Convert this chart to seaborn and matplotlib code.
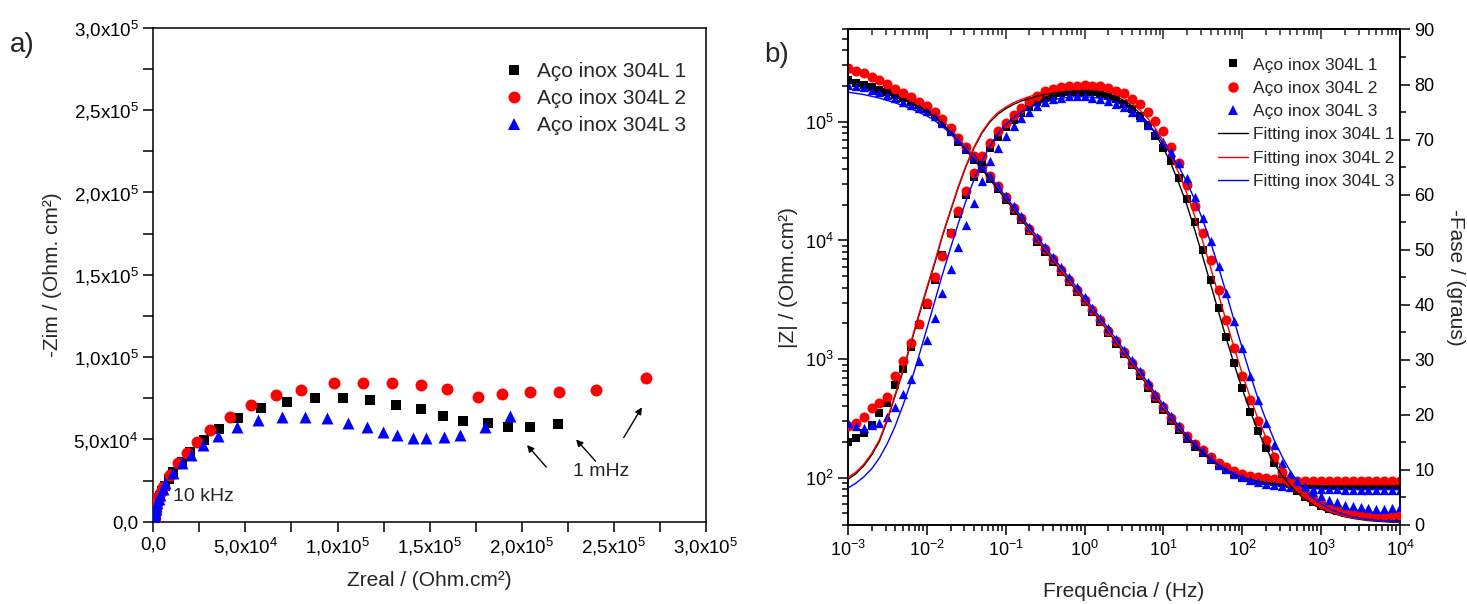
import numpy as np
import matplotlib
matplotlib.use("Agg")
import matplotlib.pyplot as plt
import seaborn as sns
from matplotlib.ticker import FixedLocator, LogLocator, MultipleLocator, NullFormatter
from matplotlib.lines import Line2D

# ---------------- data ----------------
labels_data = ["Aço inox 304L 1", "Aço inox 304L 2", "Aço inox 304L 3"]
labels_fit = ["Fitting inox 304L 1", "Fitting inox 304L 2", "Fitting inox 304L 3"]

# Nyquist (values in kOhm.cm2)
zr1 = [0.09, 0.09, 0.09, 0.09, 0.09, 0.10, 0.10, 0.11, 0.12, 0.13, 0.15, 0.17, 0.2, 0.25, 0.31, 0.39, 0.5, 0.63,
       0.8, 1.0, 1.3, 1.7, 2.2, 2.8, 3.6, 4.8, 6.4, 8.3, 10.5, 15.4, 19.9, 27.5, 35.8, 46.0, 58.7, 72.8, 88.0,
       102.9, 117.8, 131.5, 145.4, 157.1, 167.9, 181.5, 192.3, 204.4, 219.8]
zi1 = [0.0, 0.01, 0.02, 0.03, 0.05, 0.08, 0.12, 0.18, 0.26, 0.36, 0.5, 0.7, 0.95, 1.27, 1.7, 2.25, 2.95, 3.8,
       4.9, 6.2, 7.7, 9.4, 11.3, 13.4, 15.8, 18.6, 21.9, 25.8, 30.4, 36.4, 42.5, 49.6, 56.1, 62.8, 68.9, 72.9, 74.9,
       74.9, 73.9, 70.9, 68.4, 64.2, 61.3, 59.7, 57.7, 57.7, 59.3]
zr2 = [0.09, 0.09, 0.09, 0.09, 0.09, 0.10, 0.10, 0.11, 0.12, 0.13, 0.15, 0.17, 0.2, 0.24, 0.3, 0.37, 0.46, 0.58,
       0.72, 0.9, 1.1, 1.4, 1.8, 2.3, 2.8, 4.0, 5.4, 9.0, 13.5, 18.1, 23.5, 30.7, 41.5, 53.3, 66.8, 80.0, 98.1,
       113.8, 129.5, 145.4, 159.3, 176.1, 189.1, 204.4, 220.3, 240.5, 267.6]
zi2 = [0.0, 0.01, 0.02, 0.03, 0.05, 0.08, 0.12, 0.18, 0.26, 0.37, 0.52, 0.72, 0.98, 1.3, 1.75, 2.3, 3.0, 3.9,
       5.0, 6.3, 7.8, 9.5, 11.4, 13.3, 15.2, 18.0, 21.3, 28.4, 35.5, 41.5, 48.6, 55.7, 63.8, 70.9, 76.9, 79.9, 84.0,
       84.4, 84.0, 83.0, 80.6, 75.5, 77.4, 78.9, 78.9, 80.0, 87.1]
zr3 = [0.08, 0.08, 0.08, 0.08, 0.08, 0.09, 0.09, 0.10, 0.11, 0.12, 0.14, 0.16, 0.19, 0.23, 0.29, 0.37, 0.47, 0.6,
       0.77, 1.0, 1.3, 1.7, 2.2, 2.9, 3.8, 5.0, 6.3, 10.8, 15.4, 20.3, 27.1, 35.2, 45.2, 56.9, 70.1, 82.6, 94.5,
       105.6, 116.1, 124.6, 132.4, 140.8, 148.1, 158.0, 166.7, 180.2, 193.8]
zi3 = [0.0, 0.01, 0.02, 0.03, 0.05, 0.08, 0.12, 0.18, 0.26, 0.37, 0.52, 0.72, 0.98, 1.3, 1.75, 2.3, 3.0, 3.9,
       5.0, 6.3, 7.8, 9.6, 11.6, 13.9, 16.5, 19.6, 23.3, 29.4, 35.5, 40.5, 46.6, 52.0, 57.7, 61.7, 63.4, 63.8, 62.8,
       60.1, 57.7, 54.6, 52.6, 50.6, 50.6, 51.6, 52.6, 57.7, 64.2]

# Bode: frequencies (Hz)
freq = [1.00e-3, 1.26e-3, 1.58e-3, 2.00e-3, 2.51e-3, 3.16e-3, 3.98e-3, 5.01e-3, 6.31e-3, 7.94e-3,
        1.00e-2, 1.26e-2, 1.58e-2, 2.00e-2, 2.51e-2, 3.16e-2, 3.98e-2, 5.01e-2, 6.31e-2, 7.94e-2,
        1.00e-1, 1.26e-1, 1.58e-1, 2.00e-1, 2.51e-1, 3.16e-1, 3.98e-1, 5.01e-1, 6.31e-1, 7.94e-1,
        1.00, 1.26, 1.58, 2.00, 2.51, 3.16, 3.98, 5.01, 6.31, 7.94,
        10.0, 12.6, 15.8, 20.0, 25.1, 31.6, 39.8, 50.1, 63.1, 79.4,
        100, 126, 158, 200, 251, 316, 398, 501, 631, 794,
        1000, 1259, 1585, 1995, 2512, 3162, 3981, 5012, 6310, 7943, 10000]

# log10 |Z| (Ohm.cm2), measured
logz1 = [5.35, 5.33, 5.31, 5.29, 5.27, 5.25, 5.23, 5.20, 5.17, 5.14,
         5.11, 5.06, 4.99, 4.91, 4.83, 4.76, 4.68, 4.60, 4.52, 4.43,
         4.34, 4.25, 4.17, 4.08, 3.99, 3.905, 3.82, 3.735, 3.65, 3.565,
         3.48, 3.395, 3.31, 3.22, 3.13, 3.04, 2.95, 2.86, 2.76, 2.665,
         2.57, 2.48, 2.40, 2.325, 2.26, 2.205, 2.15, 2.10, 2.065, 2.035,
         2.01, 1.995, 1.98, 1.97, 1.962, 1.955, 1.95, 1.946, 1.943, 1.941,
         1.94, 1.94, 1.94, 1.94, 1.94, 1.94, 1.94, 1.94, 1.94, 1.94, 1.94]
logz2 = [5.45, 5.43, 5.41, 5.38, 5.35, 5.32, 5.28, 5.245, 5.205, 5.17,
         5.135, 5.085, 5.02, 4.945, 4.865, 4.79, 4.71, 4.63, 4.545, 4.455,
         4.365, 4.275, 4.19, 4.10, 4.01, 3.925, 3.84, 3.755, 3.67, 3.585,
         3.50, 3.415, 3.33, 3.24, 3.15, 3.06, 2.97, 2.88, 2.785, 2.69,
         2.595, 2.505, 2.425, 2.35, 2.285, 2.23, 2.175, 2.125, 2.088, 2.058,
         2.035, 2.018, 2.005, 1.995, 1.988, 1.983, 1.979, 1.976, 1.974, 1.972,
         1.971, 1.97, 1.97, 1.97, 1.97, 1.97, 1.97, 1.97, 1.97, 1.97, 1.97]
logz3 = [5.31, 5.30, 5.29, 5.27, 5.25, 5.23, 5.20, 5.17, 5.145, 5.115,
         5.09, 5.045, 4.99, 4.925, 4.855, 4.78, 4.705, 4.625, 4.545, 4.46,
         4.375, 4.29, 4.205, 4.115, 4.03, 3.945, 3.86, 3.775, 3.69, 3.605,
         3.52, 3.435, 3.35, 3.26, 3.17, 3.08, 2.99, 2.90, 2.805, 2.71,
         2.615, 2.52, 2.435, 2.355, 2.285, 2.225, 2.165, 2.11, 2.07, 2.035,
         2.005, 1.98, 1.962, 1.948, 1.937, 1.928, 1.921, 1.915, 1.911, 1.908,
         1.905, 1.903, 1.902, 1.901, 1.90, 1.90, 1.90, 1.90, 1.90, 1.90, 1.90]

# -phase (degrees), measured
ph1 = [15.1, 15.8, 16.7, 18.2, 20.3, 22.1, 25.5, 28.3, 32.4, 36.4,
       40.0, 44.5, 49.0, 53.0, 56.5, 60.0, 63.2, 66.0, 68.5, 70.5,
       72.2, 73.6, 74.8, 75.9, 76.8, 77.5, 78.0, 78.4, 78.6, 78.7,
       78.7, 78.6, 78.3, 77.9, 77.3, 76.5, 75.5, 74.2, 72.6, 70.7,
       68.5, 66.2, 63.0, 59.2, 55.0, 50.0, 44.5, 39.4, 34.2, 29.4,
       24.8, 20.6, 17.0, 13.9, 11.3, 9.3, 7.6, 6.2, 5.0, 4.1,
       3.4, 2.9, 2.5, 2.2, 2.0, 1.8, 1.7, 1.6, 1.5, 1.5, 1.5]
ph2 = [17.9, 18.5, 19.7, 21.2, 22.1, 23.2, 27.0, 29.7, 33.0, 36.5,
       40.4, 45.0, 48.9, 53.1, 57.0, 60.6, 63.9, 67.0, 69.4, 71.5,
       73.1, 74.5, 75.8, 77.0, 78.0, 78.8, 79.2, 79.6, 79.8, 79.8,
       80.0, 79.8, 79.7, 79.4, 78.8, 78.4, 77.3, 76.5, 75.1, 73.3,
       71.5, 68.7, 65.8, 61.8, 57.9, 53.1, 48.2, 42.6, 37.3, 32.1,
       27.0, 22.7, 18.8, 15.5, 12.4, 9.7, 7.9, 6.7, 5.5, 4.5,
       3.8, 3.3, 2.9, 2.6, 2.3, 2.1, 2.0, 1.9, 1.8, 1.8, 1.9]
ph3 = [18.5, 17.9, 17.6, 18.2, 18.6, 19.7, 21.5, 23.8, 26.5, 29.7,
       33.6, 37.6, 42.2, 46.5, 50.5, 54.5, 58.5, 62.5, 66.1, 68.5,
       70.6, 72.4, 73.9, 75.1, 76.1, 76.8, 77.3, 77.6, 77.9, 77.9,
       77.9, 77.6, 77.3, 77.0, 76.5, 75.9, 75.1, 74.1, 72.7, 71.3,
       69.6, 67.8, 65.8, 63.0, 59.6, 55.8, 51.5, 47.0, 42.1, 37.0,
       32.1, 27.0, 22.7, 18.5, 14.5, 11.3, 9.2, 8.0, 7.0, 6.0,
       5.2, 4.6, 4.1, 3.7, 3.4, 3.2, 3.0, 2.9, 2.9, 3.0, 3.2]

# fitted curves
logzf1 = [5.33, 5.315, 5.30, 5.285, 5.265, 5.245, 5.22, 5.19, 5.16, 5.125,
          5.09, 5.045, 4.985, 4.91, 4.835, 4.76, 4.68, 4.60, 4.515, 4.43,
          4.345, 4.26, 4.175, 4.09, 4.00, 3.915, 3.83, 3.745, 3.66, 3.575,
          3.49, 3.405, 3.32, 3.23, 3.14, 3.05, 2.96, 2.87, 2.775, 2.68,
          2.585, 2.495, 2.41, 2.335, 2.27, 2.21, 2.155, 2.105, 2.065, 2.03,
          2.005, 1.985, 1.97, 1.958, 1.95, 1.943, 1.938, 1.935, 1.933, 1.932,
          1.931, 1.93, 1.93, 1.93, 1.93, 1.93, 1.93, 1.93, 1.93, 1.93, 1.93]
logzf2 = [5.42, 5.405, 5.39, 5.37, 5.345, 5.315, 5.28, 5.245, 5.205, 5.165,
          5.125, 5.075, 5.015, 4.945, 4.865, 4.785, 4.705, 4.62, 4.535, 4.45,
          4.36, 4.275, 4.19, 4.10, 4.01, 3.925, 3.84, 3.755, 3.67, 3.585,
          3.50, 3.415, 3.33, 3.24, 3.15, 3.06, 2.97, 2.88, 2.785, 2.69,
          2.595, 2.505, 2.425, 2.35, 2.285, 2.23, 2.175, 2.125, 2.088, 2.058,
          2.035, 2.018, 2.005, 1.995, 1.988, 1.983, 1.979, 1.976, 1.974, 1.972,
          1.971, 1.97, 1.97, 1.97, 1.97, 1.97, 1.97, 1.97, 1.97, 1.97, 1.97]
logzf3 = [5.25, 5.24, 5.23, 5.215, 5.20, 5.18, 5.16, 5.135, 5.11, 5.08,
          5.05, 5.01, 4.96, 4.90, 4.835, 4.765, 4.69, 4.615, 4.535, 4.455,
          4.37, 4.285, 4.20, 4.115, 4.03, 3.945, 3.86, 3.775, 3.69, 3.605,
          3.52, 3.435, 3.35, 3.26, 3.17, 3.08, 2.99, 2.90, 2.805, 2.71,
          2.615, 2.52, 2.435, 2.355, 2.285, 2.225, 2.165, 2.11, 2.07, 2.035,
          2.005, 1.98, 1.962, 1.948, 1.937, 1.928, 1.921, 1.915, 1.911, 1.908,
          1.905, 1.903, 1.902, 1.901, 1.90, 1.90, 1.90, 1.90, 1.90, 1.90, 1.90]
phf1 = [8.3, 9.3, 10.7, 12.7, 15.2, 19.0, 23.5, 28.0, 33.0, 38.0,
        42.8, 47.5, 52.5, 57.0, 61.3, 65.2, 68.5, 71.2, 73.2, 74.6,
        75.6, 76.4, 77.0, 77.5, 77.9, 78.2, 78.4, 78.6, 78.7, 78.8,
        78.8, 78.8, 78.6, 78.3, 77.8, 77.1, 76.1, 74.8, 73.1, 71.0,
        68.5, 65.5, 62.0, 58.0, 53.5, 48.7, 43.7, 38.7, 33.8, 29.1,
        24.7, 20.7, 17.1, 14.0, 11.3, 9.1, 7.3, 5.8, 4.6, 3.7,
        2.9, 2.3, 1.9, 1.5, 1.2, 1.0, 0.8, 0.7, 0.6, 0.5, 0.45]
phf2 = [8.6, 9.6, 11.0, 13.0, 15.5, 19.3, 23.8, 28.3, 33.3, 38.3,
        43.1, 47.8, 52.7, 57.2, 61.5, 65.4, 68.7, 71.4, 73.4, 74.9,
        75.9, 76.7, 77.3, 77.8, 78.3, 78.6, 78.9, 79.1, 79.2, 79.3,
        79.3, 79.2, 79.0, 78.7, 78.2, 77.5, 76.6, 75.4, 73.9, 72.0,
        69.7, 67.0, 63.8, 60.1, 56.0, 51.5, 46.7, 41.8, 36.9, 32.1,
        27.5, 23.2, 19.3, 15.9, 12.9, 10.3, 8.2, 6.5, 5.1, 4.0,
        3.1, 2.5, 2.0, 1.6, 1.3, 1.1, 0.9, 0.8, 0.7, 0.6, 0.55]
phf3 = [6.7, 7.6, 8.7, 10.2, 12.2, 14.8, 18.0, 21.8, 26.0, 30.7,
        35.6, 40.6, 45.5, 50.3, 54.8, 59.0, 62.8, 66.1, 68.8, 71.0,
        72.7, 74.0, 75.0, 75.8, 76.4, 76.9, 77.2, 77.5, 77.7, 77.8,
        77.8, 77.7, 77.5, 77.2, 76.8, 76.2, 75.4, 74.3, 73.0, 71.3,
        69.3, 67.2, 65.0, 62.2, 59.0, 55.4, 51.3, 46.8, 42.0, 37.0,
        32.1, 27.4, 23.0, 19.1, 15.6, 12.6, 10.0, 7.9, 6.2, 4.9,
        3.8, 3.0, 2.4, 1.9, 1.5, 1.2, 1.0, 0.85, 0.75, 0.65, 0.6]

# ---------------- style ----------------
sns.set_theme(style="ticks")
plt.rcParams['font.family'] = ['Liberation Sans', 'DejaVu Sans']
plt.rcParams['mathtext.fontset'] = 'custom'
plt.rcParams['mathtext.rm'] = 'Liberation Sans'
plt.rcParams['mathtext.it'] = 'Liberation Sans:italic'
plt.rcParams['mathtext.bf'] = 'Liberation Sans:bold'
plt.rcParams['axes.linewidth'] = 1.1
plt.rcParams['axes.edgecolor'] = 'black'

colors = ['#000000', '#ff0000', '#0000ff']
markers = ['s', 'o', '^']

fig = plt.figure(figsize=(14.67, 6.04), dpi=100)

# ---------------- a) Nyquist ----------------
ax1 = fig.add_axes([0.1045, 0.1363, 0.3767, 0.8178])
nyq = [(zr1, zi1), (zr2, zi2), (zr3, zi3)]
sizes_n = [52, 74, 74]
for i, (zr, zi) in enumerate(nyq):
    sns.scatterplot(x=np.array(zr) * 1e3, y=np.array(zi) * 1e3, ax=ax1, marker=markers[i],
                    color=colors[i], s=sizes_n[i], linewidth=0, legend=False, zorder=3 + i)
ax1.set_xlim(0, 3e5)
ax1.set_ylim(0, 3e5)
ticks = [0, 5e4, 1e5, 1.5e5, 2e5, 2.5e5, 3e5]
tlabels = ["0,0", "5,0x10$^{4}$", "1,0x10$^{5}$", "1,5x10$^{5}$", "2,0x10$^{5}$",
           "2,5x10$^{5}$", "3,0x10$^{5}$"]
ax1.xaxis.set_major_locator(FixedLocator(ticks))
ax1.yaxis.set_major_locator(FixedLocator(ticks))
ax1.set_xticklabels(tlabels)
ax1.set_yticklabels(tlabels)
ax1.xaxis.set_minor_locator(MultipleLocator(2.5e4))
ax1.yaxis.set_minor_locator(MultipleLocator(2.5e4))
ax1.tick_params(which='both', direction='out', length=7, width=1.1, labelsize=13.5, colors='black')
for s in ['top', 'right']:
    ax1.spines[s].set_visible(True)
ax1.set_xlabel("Zreal / (Ohm.cm²)", fontsize=15, labelpad=9)
ax1.set_ylabel("-Zim / (Ohm. cm²)", fontsize=15, labelpad=8)
ax1.text(10.8e3, 15e3, "10 kHz", fontsize=14, va='center', ha='left', zorder=10)
ax1.text(228e3, 30.6e3, "1 mHz", fontsize=14, va='center', ha='left')
arrows = [((214.3e3, 31.9e3), (201.9e3, 47.8e3)),
          ((241.1e3, 35.5e3), (228.5e3, 51.2e3)),
          ((254.6e3, 49.6e3), (266.0e3, 70.9e3))]
for tail, tip in arrows:
    ax1.annotate("", xy=tip, xytext=tail,
                 arrowprops=dict(arrowstyle='-|>', color='black', lw=1.0, mutation_scale=10))
h1 = [Line2D([], [], ls='none', marker=markers[i], color=colors[i],
             markersize=[7.2, 8.6, 8.6][i], markeredgewidth=0) for i in range(3)]
ax1.legend(h1, labels_data, loc='upper left', bbox_to_anchor=(0.343, 0.897),
           bbox_transform=fig.transFigure, frameon=False, fontsize=15,
           handlelength=1.0, handletextpad=0.6, labelspacing=0.38, borderpad=0, borderaxespad=0)
fig.text(0.007, 0.925, "a)", fontsize=20, va='center', ha='left')

# ---------------- b) Bode ----------------
ax = fig.add_axes([0.578, 0.1308, 0.3763, 0.8204])
ax2 = ax.twinx()
zs = [logz1, logz2, logz3]
zfs = [logzf1, logzf2, logzf3]
phs = [ph1, ph2, ph3]
phfs = [phf1, phf2, phf3]
sizes_b = [33, 52, 45]
for i in range(3):
    sns.scatterplot(x=freq, y=10 ** np.array(zs[i]), ax=ax, marker=markers[i], color=colors[i],
                    s=sizes_b[i], linewidth=0, legend=False, zorder=3 + i)
for i in range(3):
    sns.lineplot(x=freq, y=10 ** np.array(zfs[i]), ax=ax, color=colors[i], lw=1.0,
                 estimator=None, legend=False, zorder=7)
for i in range(3):
    sns.scatterplot(x=freq, y=phs[i], ax=ax2, marker=markers[i], color=colors[i],
                    s=sizes_b[i], linewidth=0, legend=False, zorder=3 + i)
for i in range(3):
    sns.lineplot(x=freq, y=phfs[i], ax=ax2, color=colors[i], lw=1.0,
                 estimator=None, legend=False, zorder=7)

ax.set_xscale('log')
ax.set_yscale('log')
ax.set_xlim(1e-3, 1e4)
ax.set_ylim(40, 6e5)
ax2.set_ylim(0, 90)
ax.xaxis.set_major_locator(LogLocator(base=10, numticks=20))
ax.xaxis.set_minor_locator(LogLocator(base=10, subs=np.arange(2, 10), numticks=100))
ax.xaxis.set_minor_formatter(NullFormatter())
ax.yaxis.set_major_locator(LogLocator(base=10, numticks=20))
ax.yaxis.set_minor_locator(LogLocator(base=10, subs=np.arange(2, 10), numticks=100))
ax.yaxis.set_minor_formatter(NullFormatter())
ax2.yaxis.set_major_locator(MultipleLocator(10))
ax2.yaxis.set_minor_locator(MultipleLocator(5))
ax.tick_params(which='major', direction='out', length=7, width=1.1, labelsize=13, colors='black')
ax.tick_params(which='minor', direction='out', length=4, width=1.1, colors='black')
ax2.tick_params(which='major', direction='out', length=7, width=1.1, labelsize=13, colors='black')
ax2.tick_params(which='minor', direction='out', length=4, width=1.1, colors='black')
ax.set_xlabel("Frequência / (Hz)", fontsize=15, labelpad=16)
ax.set_ylabel("|Z| / (Ohm.cm²)", fontsize=15, labelpad=5)
ax2.set_ylabel("-Fase / (graus)", fontsize=15, rotation=270, labelpad=22)

top = ax.secondary_xaxis('top')
top.xaxis.set_major_locator(LogLocator(base=10, numticks=20))
top.xaxis.set_minor_locator(LogLocator(base=10, subs=np.arange(2, 10), numticks=100))
top.tick_params(which='major', direction='in', length=7, width=1.1, labelsize=0, labeltop=False)
top.tick_params(which='minor', direction='in', length=4, width=1.1)
top.xaxis.set_major_formatter(NullFormatter())
top.xaxis.set_minor_formatter(NullFormatter())

hd = [Line2D([], [], ls='none', marker=markers[i], color=colors[i],
             markersize=[6.0, 7.5, 7.2][i], markeredgewidth=0) for i in range(3)]
hf = [Line2D([], [], color=colors[i], lw=1.0) for i in range(3)]
ax2.legend(hd + hf, labels_data + labels_fit, loc='upper left', bbox_to_anchor=(0.8303, 0.905),
           bbox_transform=fig.transFigure, frameon=False, fontsize=12.5,
           handlelength=1.7, handletextpad=0.3, labelspacing=0.47, borderpad=0, borderaxespad=0)
fig.text(0.521, 0.909, "b)", fontsize=20, va='center', ha='left')

fig.savefig("out.png", dpi=100)
